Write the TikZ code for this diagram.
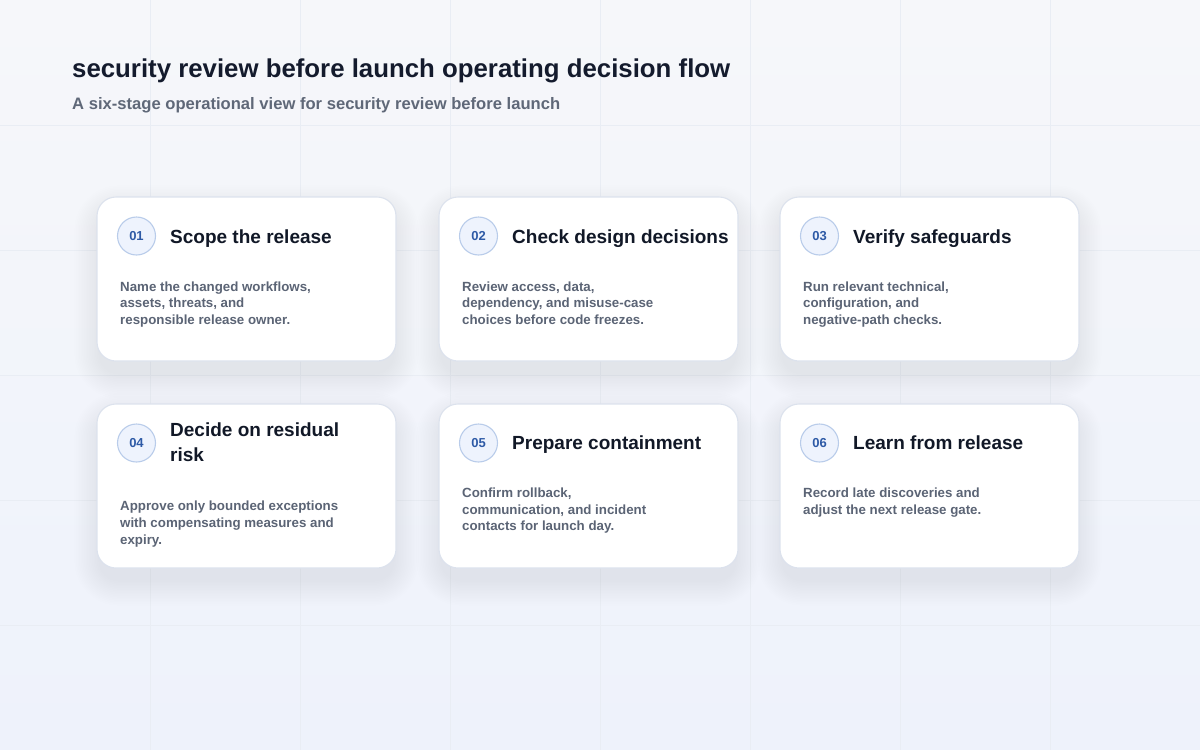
\documentclass[tikz,border=0pt]{standalone}
\usepackage{fontspec}
\setmainfont{Liberation Sans}
\definecolor{bgtop}{HTML}{F6F7FA}
\definecolor{bgbot}{HTML}{EEF2FB}
\definecolor{gridc}{HTML}{E9EDF4}
\definecolor{titlec}{HTML}{141B2D}
\definecolor{subc}{HTML}{5F6878}
\definecolor{cardttl}{HTML}{111827}
\definecolor{descc}{HTML}{5B6475}
\definecolor{numc}{HTML}{2E5AA6}
\definecolor{badgefill}{HTML}{EEF3FD}
\definecolor{badgedraw}{HTML}{B9CCEA}
\definecolor{cardborder}{HTML}{DCE2ED}
\definecolor{shadowc}{HTML}{3A4E96}
\tikzset{
  card/.style={draw=cardborder, line width=1.1pt, fill=white, rounded corners=19pt,
    minimum width=299pt, minimum height=164pt, inner sep=0pt},
  badge/.style={circle, draw=badgedraw, line width=1.1pt, fill=badgefill,
    minimum size=38pt, inner sep=0pt, text=numc, font=\bfseries\fontsize{13}{15}\selectfont},
  cardtitle/.style={anchor=base west, align=left, inner sep=0pt, text=cardttl,
    font=\bfseries\fontsize{19}{24.3}\selectfont},
  carddesc/.style={anchor=base west, align=left, inner sep=0pt, text=descc,
    font=\bfseries\fontsize{13.3}{16.7}\selectfont},
  headtitle/.style={anchor=base west, inner sep=0pt, text=titlec,
    font=\bfseries\fontsize{25.8}{30}\selectfont},
  headsub/.style={anchor=base west, inner sep=0pt, text=subc,
    font=\bfseries\fontsize{16.6}{19}\selectfont},
}
\begin{document}
\begin{tikzpicture}[x=1pt,y=-1pt]
\useasboundingbox (0,0) rectangle (1200,750);
\shade[top color=bgtop, bottom color=bgbot] (0,0) rectangle (1200,750);
\foreach \gx in {150,300,...,1050} \draw[gridc, line width=1pt] (\gx,0) -- (\gx,750);
\foreach \gy in {125,250,...,625} \draw[gridc, line width=1pt] (0,\gy) -- (1200,\gy);

\node[headtitle] (head) at (72,77) {security review before launch operating decision flow};
\node[headsub] (sub) at (72,109.5) {A six-stage operational view for security review before launch};

% soft shadows under the cards
\foreach \lx/\ty in {97/197,439/197,780/197,97/404,439/404,780/404}{
  \foreach \i [evaluate=\i as \rr using 19+1.6*\i, evaluate=\i as \ee using 1.6*\i] in {1,...,16}{
    \fill[shadowc, opacity=0.005, rounded corners=\rr pt]
      (\lx+3-\ee, \ty+14-\ee) rectangle (\lx+296+\ee, \ty+164+12+\ee);
  }
}

% base anchors of multi-line texts sit on their last line
\foreach \n/\lx/\ty/\num/\tb/\ttl/\db/\dsc in {
  1/97/197/01/243/{Scope the release}/324.4/{Name the changed workflows,\\assets, threats, and\\responsible release owner.},
  2/439/197/02/243/{Check design decisions}/324.4/{Review access, data,\\dependency, and misuse-case\\choices before code freezes.},
  3/780/197/03/243/{Verify safeguards}/324.4/{Run relevant technical,\\configuration, and\\negative-path checks.},
  4/97/404/04/461/{Decide on residual\\risk}/544.1/{Approve only bounded exceptions\\with compensating measures and\\expiry.},
  5/439/404/05/449.5/{Prepare containment}/530.9/{Confirm rollback,\\communication, and incident\\contacts for launch day.},
  6/780/404/06/449.5/{Learn from release}/514.2/{Record late discoveries and\\adjust the next release gate.}}{
  \node[card] (card\n) at (\lx+149.5, \ty+82) {};
  \node[badge] (badge\n) at (\lx+39.5, \ty+39) {\num};
  \node[cardtitle] (title\n) at (\lx+73, \tb) {\ttl};
  \node[carddesc] (desc\n) at (\lx+23, \db) {\dsc};
}
\end{tikzpicture}
\end{document}
